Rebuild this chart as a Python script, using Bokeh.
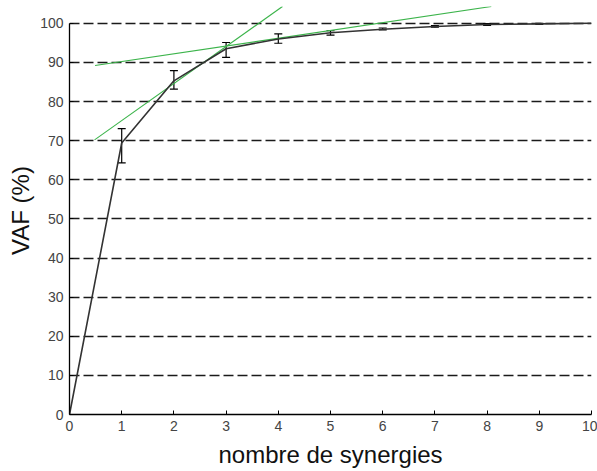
from bokeh.plotting import figure
from bokeh.models import Range1d, Whisker, ColumnDataSource, TeeHead, FixedTicker
from bokeh.embed import file_html
from bokeh.resources import INLINE

# Data
n_syn = [0, 1, 2, 3, 4, 5, 6, 7, 8, 9, 10]
vaf_mean = [0, 69.4, 85.3, 93.5, 96.0, 97.6, 98.5, 99.2, 99.7, 99.85, 100]
err_x = [1, 2, 3, 4, 5, 6, 7, 8, 9]
err_low = [64.3, 83.2, 91.3, 94.9, 97.0, 98.3, 99.0, 99.5, 99.7]
err_high = [73.1, 87.9, 95.1, 97.3, 98.1, 98.8, 99.4, 99.9, 100.0]
fit1_x = [0.48, 4.08]
fit1_y = [70.2, 104.3]
fit2_x = [0.49, 8.08]
fit2_y = [89.2, 104.3]
x_ticks = [0, 1, 2, 3, 4, 5, 6, 7, 8, 9, 10]
y_ticks = [0, 10, 20, 30, 40, 50, 60, 70, 80, 90, 100]

p = figure(width=597, height=471, output_backend="svg", toolbar_location=None,
           x_range=Range1d(0, 10), y_range=Range1d(0, 104.3),
           min_border_left=69, min_border_right=6, min_border_top=6,
           min_border_bottom=57)
p.outline_line_color = None
p.background_fill_color = "white"

font = "Liberation Sans"

# grid
p.xgrid.visible = False
p.ygrid.ticker = FixedTicker(ticks=y_ticks)
p.ygrid.grid_line_color = "#1a1a1a"
p.ygrid.grid_line_width = 1.3
p.ygrid.grid_line_dash = "10 4"

# axes
p.xaxis.ticker = FixedTicker(ticks=x_ticks)
p.yaxis.ticker = FixedTicker(ticks=y_ticks)
p.yaxis.bounds = (0, 100)
for ax in (p.xaxis[0], p.yaxis[0]):
    ax.axis_line_color = "black"
    ax.axis_line_width = 1.3
    ax.major_tick_in = 4
    ax.major_tick_out = 0
    ax.major_tick_line_color = "black"
    ax.minor_tick_line_color = None
    ax.major_label_text_font = font
    ax.major_label_text_font_size = "14px"
    ax.major_label_text_color = "#444444"
    ax.major_label_standoff = 6
    ax.axis_label_text_font = font
    ax.axis_label_text_font_size = "24px"
    ax.axis_label_text_font_style = "normal"
    ax.axis_label_text_color = "#111111"

p.xaxis.axis_label = "nombre de synergies"
p.xaxis.axis_label_standoff = 7
p.yaxis.axis_label = "VAF (%)"
p.yaxis.axis_label_standoff = 3

# fit lines
p.line(fit1_x, fit1_y, line_color="#3cb44b", line_width=1.1)
p.line(fit2_x, fit2_y, line_color="#3cb44b", line_width=1.1)

# main curve
p.line(n_syn, vaf_mean, line_color="#333333", line_width=1.6)

# error bars
src = ColumnDataSource(data=dict(x=err_x, lo=err_low, hi=err_high))
w = Whisker(source=src, base="x", lower="lo", upper="hi",
            line_color="black", line_width=1.2,
            upper_head=TeeHead(size=8, line_color="black", line_width=1.2),
            lower_head=TeeHead(size=8, line_color="black", line_width=1.2))
p.add_layout(w)

open("out.html", "w").write(file_html(p, INLINE))
